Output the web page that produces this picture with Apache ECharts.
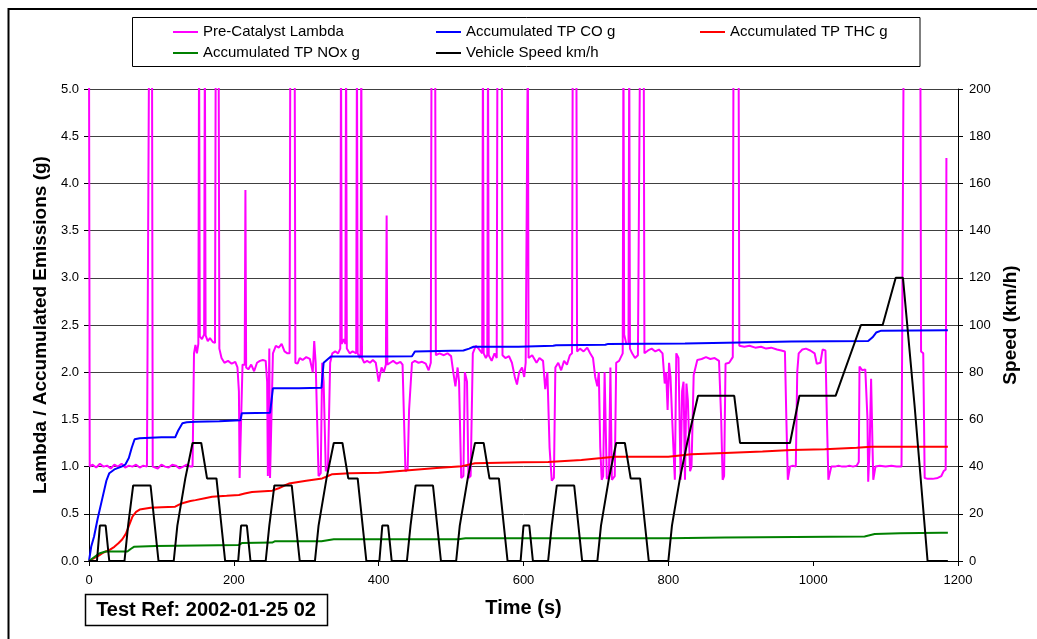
<!DOCTYPE html>
<html>
<head>
<meta charset="utf-8">
<script src="https://cdn.jsdelivr.net/npm/echarts@6/dist/echarts.min.js"></script>
<style>
html,body{margin:0;padding:0;background:#fff;}
#chart{width:1037px;height:639px;}
</style>
</head>
<body>
<div id="chart"></div>
<script>
// ---- Data (time s, value) ----
var xTicks = [0, 200, 400, 600, 800, 1000, 1200];

var lambdaData = [
[0,5.5],[1,1.0],[5,1.02],[10,0.99],[15,1.03],[20,1.0],[25,1.01],[30,0.98],[35,1.02],[40,1.0],[45,1.03],[50,0.99],[55,1.01],[60,1.0],[65,1.02],[70,0.99],[75,1.01],[80,1.0],
[82,1.0],[83,5.5],[87,5.5],[88,1.0],[90,1.01],[95,0.98],[100,1.02],[105,1.0],[110,0.99],[115,1.02],[120,1.01],[125,0.98],[130,1.0],[135,1.02],[140,1.0],[143,1.0],
[145,2.2],[147,2.29],[149,2.2],[151,2.3],[152,5.5],[153,2.38],[156,2.35],[159,2.4],[160,5.5],[161,2.39],[164,2.33],[167,2.36],[171,2.32],[174,2.31],[175,5.5],[179,5.5],[180,2.25],
[183,2.15],[187,2.1],[192,2.12],[197,2.09],[202,2.11],[205,2.05],[207,1.8],[208,0.88],[210,0.9],[212,2.08],[215,2.08],[216,3.93],[217,2.05],
[220,2.03],[224,2.08],[228,2.01],[232,2.1],[236,2.12],[240,2.13],[244,2.12],[246,1.9],[247,0.9],[249,2.25],[250,0.88],[252,0.9],[254,2.2],[258,2.28],[262,2.26],[266,2.3],[270,2.22],[274,2.2],[277,2.2],[278,5.5],[284,5.5],[285,2.1],
[288,2.09],[291,2.15],[295,2.13],[300,2.16],[305,2.14],[309,2.0],[311,2.33],[313,2.1],[317,0.9],[320,0.93],[322,2.1],[324,1.9],[327,0.95],[330,1.0],[333,2.1],[336,2.2],[340,2.22],[344,2.2],
[347,2.25],[348,5.5],[349,2.3],[352,2.35],[354,2.3],[355,5.5],[356,2.25],[360,2.2],[364,2.22],[369,2.2],[370,5.5],[371,2.2],[374,2.15],[375,2.2],[376,5.5],
[377,2.15],[380,2.1],[384,2.12],[388,2.1],[392,2.13],[396,2.1],[400,1.9],[402,1.88],[404,2.05],[407,2.0],[410,2.08],[411,3.66],[412,2.08],[416,2.1],[420,2.12],[425,2.09],[430,2.11],[433,2.08],[435,1.5],[437,0.95],[440,0.97],[442,1.6],[446,2.1],[450,2.12],[455,2.1],[460,2.11],[465,2.09],[469,2.02],[472,2.1],[473,5.5],[478,5.5],[479,2.18],
[484,2.2],[490,2.18],[495,2.2],[500,2.17],[503,2.0],[506,1.85],[509,2.05],[511,1.9],[514,0.88],[517,0.9],[519,2.0],[522,1.9],[524,0.88],[527,0.9],[530,2.2],[534,2.28],[538,2.25],[543,2.2],[544,5.5],[545,2.2],[548,2.15],[550,2.18],[551,5.5],[552,2.18],[556,2.12],[560,2.2],[563,2.15],[564,5.5],[570,5.5],[571,2.18],
[575,2.15],[580,2.17],[584,2.1],[588,1.95],[591,1.87],[594,2.0],[598,2.05],[601,1.95],[603,2.1],[605,2.1],[606,5.5],[607,2.15],[612,2.18],[618,2.1],[622,2.15],[627,2.12],[630,1.82],[633,2.0],[636,1.2],[639,0.85],[642,0.88],[644,2.05],[648,2.1],[652,2.02],[656,2.12],[660,2.08],[664,2.18],[667,2.2],[668,5.5],[673,5.5],[674,2.22],
[678,2.25],[683,2.22],[688,2.26],[692,2.2],[696,2.15],[699,1.95],[702,1.85],[704,2.0],[706,1.2],[708,0.86],[710,0.9],[712,2.0],[715,0.87],[718,0.9],[720,2.05],[722,0.86],[726,0.9],[728,2.1],[732,2.12],[737,2.2],[738,5.5],[739,2.4],[742,2.3],[745,2.3],[746,5.5],[747,2.25],[750,2.2],[754,2.15],[758,2.18],[760,2.2],[761,5.5],[766,5.5],[767,2.2],
[772,2.23],[777,2.25],[782,2.22],[787,2.24],[792,2.2],[795,1.88],[797,2.0],[799,1.6],[801,2.1],[803,1.95],[805,1.56],[807,1.2],[809,0.86],[811,2.2],[814,2.15],[816,1.3],[817,0.86],[819,1.8],[821,1.9],[823,0.86],[825,1.88],[827,1.7],[830,0.95],[832,1.0],[835,1.97],[840,2.13],[846,2.14],[852,2.16],[858,2.14],[864,2.15],[870,2.12],[873,1.5],[875,0.86],[877,0.9],[879,2.09],[884,2.1],[889,2.16],[890,5.5],[897,5.5],[898,2.28],
[905,2.27],[912,2.28],[920,2.26],[928,2.27],[935,2.25],[942,2.26],[950,2.24],[956,2.23],[961,2.22],[963,1.5],[965,0.86],[968,1.0],[972,1.01],[976,1.0],[978,2.0],[980,2.2],[985,2.24],[990,2.25],[996,2.23],[1002,2.2],[1005,2.09],[1010,2.1],[1013,2.24],[1017,2.23],[1019,1.5],[1021,0.86],[1025,1.0],[1030,1.0],[1035,1.01],[1040,1.0],[1045,1.0],[1050,1.01],[1055,1.0],[1060,1.01],[1063,1.05],[1064,2.06],[1068,2.02],[1072,2.03],[1075,1.5],[1076,0.84],[1078,1.2],[1080,1.93],[1082,1.2],[1083,0.86],[1086,1.0],[1092,1.01],[1100,1.0],[1108,1.01],[1115,1.0],[1122,1.0],[1124,1.0],[1125,5.5],[1148,5.5],[1149,2.22],[1152,2.2],[1154,0.88],[1158,0.87],[1165,0.87],[1172,0.88],[1177,0.9],[1180,0.95],[1183,0.97],[1184,4.27]
];

var coData = [
[0,0],[3,0.15],[7,0.26],[12,0.45],[18,0.65],[24,0.85],[28,0.93],[35,0.97],[45,1.0],[50,1.02],[55,1.09],[59,1.2],[63,1.29],[70,1.3],[100,1.31],[119,1.31],[123,1.38],[129,1.46],[135,1.47],[147,1.475],[180,1.48],[209,1.49],[211,1.565],[250,1.57],[252,1.7],[254,1.83],[290,1.83],[321,1.835],[324,2.1],[330,2.14],[334,2.165],[400,2.165],[446,2.17],[450,2.22],[517,2.23],[525,2.25],[531,2.27],[593,2.27],[641,2.28],[645,2.285],[713,2.29],[717,2.3],[823,2.305],[900,2.315],[970,2.325],[1076,2.33],[1082,2.37],[1087,2.42],[1094,2.44],[1186,2.445]
];

var thcData = [
[0,0],[7,0.03],[14,0.06],[20,0.09],[28,0.115],[35,0.15],[41,0.19],[46,0.23],[51,0.29],[56,0.39],[60,0.47],[65,0.52],[70,0.545],[85,0.565],[100,0.57],[119,0.575],[125,0.6],[130,0.615],[140,0.635],[147,0.645],[160,0.665],[170,0.68],[190,0.69],[207,0.7],[215,0.715],[225,0.73],[253,0.745],[262,0.77],[270,0.8],[276,0.82],[300,0.85],[322,0.875],[330,0.9],[336,0.92],[360,0.93],[400,0.935],[446,0.965],[480,0.985],[515,1.005],[533,1.035],[600,1.045],[634,1.05],[680,1.07],[708,1.09],[726,1.105],[800,1.105],[832,1.13],[878,1.145],[930,1.16],[970,1.175],[1016,1.185],[1060,1.2],[1080,1.21],[1186,1.21]
];

var noxData = [
[0,0],[7,0.04],[14,0.08],[23,0.1],[53,0.1],[58,0.13],[62,0.15],[92,0.16],[207,0.17],[211,0.19],[253,0.195],[257,0.21],[321,0.21],[338,0.23],[510,0.23],[520,0.24],[800,0.24],[878,0.25],[1071,0.26],[1085,0.285],[1120,0.295],[1177,0.3],[1186,0.3]
];

var speedData = [
[0,0],[11,0],[15,15],[23,15],[28,0],[49,0],[54,15],[56,15],[61,32],[85,32],[96,0],[117,0],[122,15],[124,15],[133,35],[135,35],[143,50],[155,50],[163,35],[176,35],[188,0],[195,0],
[206,0],[210,15],[218,15],[223,0],[244,0],[249,15],[251,15],[256,32],[280,32],[291,0],[312,0],[317,15],[319,15],[328,35],[330,35],[338,50],[350,50],[358,35],[371,35],[383,0],[390,0],
[401,0],[405,15],[413,15],[418,0],[439,0],[444,15],[446,15],[451,32],[475,32],[486,0],[507,0],[512,15],[514,15],[523,35],[525,35],[533,50],[545,50],[553,35],[566,35],[578,0],[585,0],
[596,0],[600,15],[608,15],[613,0],[634,0],[639,15],[641,15],[646,32],[670,32],[681,0],[702,0],[707,15],[709,15],[718,35],[720,35],[728,50],[740,50],[748,35],[761,35],[773,0],[780,0],
[800,0],[805,15],[807,15],[816,35],[818,35],[826,50],[828,50],[841,70],[891,70],[899,50],[968,50],[981,70],[1031,70],[1066,100],[1096,100],[1114,120],[1124,120],[1140,66],[1158,0],[1186,0]
];

var seriesNames = ['Pre-Catalyst Lambda', 'Accumulated TP CO g', 'Accumulated TP THC g', 'Accumulated TP NOx g', 'Vehicle Speed km/h'];
var seriesColors = ['#FF00FF', '#0000FF', '#FF0000', '#008000', '#000000'];

// ---- Chart ----
var FONT = "'Liberation Sans', Arial, sans-serif";
var chart = echarts.init(document.getElementById('chart'), null, {renderer: 'canvas'});

function lineSeries(i, data, yIdx) {
  return {
    name: seriesNames[i], type: 'line', data: data, yAxisIndex: yIdx,
    showSymbol: false, symbol: 'none', clip: true, animation: false,
    lineStyle: {color: seriesColors[i], width: 2},
    itemStyle: {color: seriesColors[i]},
    z: 2 + i
  };
}

function legendCol(left, names) {
  return {
    orient: 'vertical', left: left, top: 19, itemGap: 5,
    itemWidth: 25, itemHeight: 2, icon: 'rect', selectedMode: false,
    data: names,
    textStyle: {fontFamily: FONT, fontSize: 15, color: '#000', lineHeight: 16}
  };
}

var option = {
  animation: false,
  backgroundColor: '#fff',
  grid: {left: 89, right: 79, top: 89, bottom: 78, containLabel: false},
  legend: [
    legendCol(168, [seriesNames[0], seriesNames[3]]),
    legendCol(431, [seriesNames[1], seriesNames[4]]),
    legendCol(695, [seriesNames[2]])
  ],
  xAxis: {
    type: 'value', min: 0, max: 1200, interval: 200,
    name: 'Time (s)', nameLocation: 'middle', nameGap: 37,
    nameTextStyle: {fontFamily: FONT, fontSize: 20, fontWeight: 'bold', color: '#000'},
    axisLine: {show: true, onZero: false, lineStyle: {color: '#000', width: 1}},
    axisTick: {show: true, inside: false, length: 5, lineStyle: {color: '#000'}},
    axisLabel: {fontFamily: FONT, fontSize: 13, color: '#000', margin: 13,
      formatter: function (v) { return String(v); }},
    splitLine: {show: false}
  },
  yAxis: [
    {
      type: 'value', min: 0, max: 5, interval: 0.5, position: 'left',
      name: 'Lambda / Accumulated Emissions (g)', nameLocation: 'middle', nameGap: 34, nameRotate: 90,
      nameTextStyle: {fontFamily: FONT, fontSize: 19, fontWeight: 'bold', color: '#000'},
      axisLine: {show: true, lineStyle: {color: '#000', width: 1}},
      axisTick: {show: true, inside: false, length: 5, lineStyle: {color: '#000'}},
      axisLabel: {fontFamily: FONT, fontSize: 13, color: '#000', margin: 10,
        formatter: function (v) { return v.toFixed(1); }},
      splitLine: {show: true, lineStyle: {color: '#404040', width: 1}}
    },
    {
      type: 'value', min: 0, max: 200, interval: 20, position: 'right',
      name: 'Speed (km/h)', nameLocation: 'middle', nameGap: 43, nameRotate: 90,
      nameTextStyle: {fontFamily: FONT, fontSize: 19, fontWeight: 'bold', color: '#000'},
      axisLine: {show: true, lineStyle: {color: '#000', width: 1}},
      axisTick: {show: true, inside: false, length: 5, lineStyle: {color: '#000'}},
      axisLabel: {fontFamily: FONT, fontSize: 13, color: '#000', margin: 11},
      splitLine: {show: false}
    }
  ],
  series: [
    lineSeries(0, lambdaData, 0),
    lineSeries(1, coData, 0),
    lineSeries(2, thcData, 0),
    lineSeries(3, noxData, 0),
    lineSeries(4, speedData, 1)
  ],
  graphic: [
    {type: 'rect', silent: true, z: 100,
     shape: {x: 8.5, y: 9, width: 1040, height: 640},
     style: {fill: 'none', stroke: '#000', lineWidth: 2}},
    {type: 'rect', silent: true, z: 100,
     shape: {x: 132.5, y: 17.5, width: 787.5, height: 49},
     style: {fill: 'none', stroke: '#000', lineWidth: 1}},
    {type: 'rect', silent: true, z: 100,
     shape: {x: 85.5, y: 594.5, width: 242, height: 31},
     style: {fill: '#fff', stroke: '#000', lineWidth: 1.5}},
    {type: 'text', silent: true, z: 101,
     x: 206, y: 610,
     style: {text: 'Test Ref: 2002-01-25 02', fontFamily: FONT, fontSize: 20, fontWeight: 'bold',
             fill: '#000', textAlign: 'center', textVerticalAlign: 'middle'}}
  ]
};
chart.setOption(option);
</script>
</body>
</html>
